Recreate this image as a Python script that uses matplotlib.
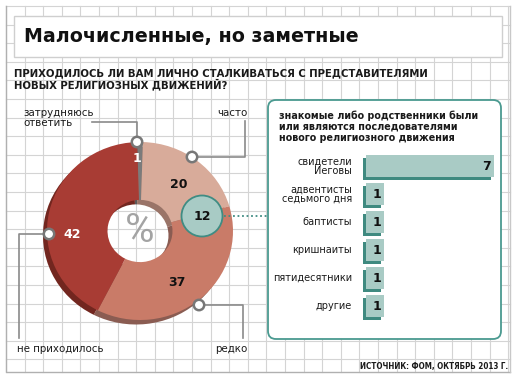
import matplotlib
matplotlib.use("Agg")
import matplotlib.pyplot as plt
from matplotlib import font_manager
from matplotlib.font_manager import FontProperties
from matplotlib.patches import Rectangle, FancyBboxPatch, Circle
import matplotlib.transforms as mtransforms

# ---------------- data ----------------
title = "Малочисленные, но заметные"
question = "ПРИХОДИЛОСЬ ЛИ ВАМ ЛИЧНО СТАЛКИВАТЬСЯ С ПРЕДСТАВИТЕЛЯМИ\nНОВЫХ РЕЛИГИОЗНЫХ ДВИЖЕНИЙ?"
pie_labels = ["затрудняюсь\nответить", "часто", "редко", "не приходилось"]
pie_values = [1, 20, 37, 42]
highlight_value = 12
panel_title = "знакомые либо родственники были\nили являются последователями\nнового религиозного движения"
bar_categories = ["свидетели\nИеговы", "адвентисты\nседьмого дня", "баптисты",
                  "кришнаиты", "пятидесятники", "другие"]
bar_values = [7, 1, 1, 1, 1, 1]
source = "ИСТОЧНИК: ФОМ, ОКТЯБРЬ 2013 Г."

# ---------------- fonts ----------------
plt.rcParams["font.family"] = ["DejaVu Sans"]


def find_narrow():
    best = None
    for f in font_manager.fontManager.ttflist:
        stretch = str(f.stretch)
        is_narrow = ("Narrow" in f.name or "Condensed" in f.name or
                     stretch in ("condensed", "semi-condensed", "extra-condensed"))
        if not is_narrow:
            continue
        w = f.weight if isinstance(f.weight, int) else (700 if "bold" in str(f.weight) else 400)
        score = abs(w - 700) + (0 if f.style == "normal" else 1000)
        if best is None or score < best[0]:
            best = (score, f.fname)
    return FontProperties(fname=best[1]) if best else FontProperties(family="DejaVu Sans", weight="bold")


narrow_fp = find_narrow()

W, H = 516, 380
fig = plt.figure(figsize=(W / 100, H / 100), dpi=100)
fig.patch.set_facecolor("white")
ax = fig.add_axes([0, 0, 1, 1])
ax.set_xlim(0, W)
ax.set_ylim(0, H)
ax.axis("off")
renderer = fig.canvas.get_renderer()


def Y(y):
    return H - y


def fit(t, target_w):
    bb = t.get_window_extent(renderer)
    t.set_fontsize(t.get_fontsize() * target_w / bb.width)


# ---------------- grid background ----------------
grid_c = "#d4d4d4"
x0, x1, y0, y1 = 6, 510, 6, 372
step = 18.6
x = x0
while x <= x1 + 0.1:
    ax.plot([x, x], [Y(y0), Y(y1)], color=grid_c, lw=0.8, zorder=0)
    x += step
y = y0
while y <= y1 + 0.1:
    ax.plot([x0, x1], [Y(y), Y(y)], color=grid_c, lw=0.8, zorder=0)
    y += step
ax.plot([x0, x0, x1], [Y(y0), Y(y1), Y(y1)], color="#b0b0b0", lw=1.0, zorder=0)
ax.plot([x1, x1], [Y(y0), Y(y1)], color="#c8c8c8", lw=1.0, zorder=0)

# title box
ax.add_patch(Rectangle((14, Y(57)), 488, 41, facecolor="white",
                       edgecolor="#cfcfcf", lw=1.0, zorder=1))
t = ax.text(24, Y(36.5), title, fontsize=14, fontweight="heavy", color="#111111",
            va="center", ha="left", zorder=2)
fit(t, 333)
qp = narrow_fp.copy()
qp.set_size(7.5)
t = ax.text(14, Y(79), question, fontproperties=qp, color="#1a1a1a",
            va="center", ha="left", linespacing=1.0, zorder=2)
fit(t, 416)

# ---------------- donut (own axes, slightly elliptical like the original) ----------------
cx, cy, RX, RY = 140, 231, 93, 89
half = 115
pax = fig.add_axes([(cx - half) / W, (H - cy - half) / H, 2 * half / W, 2 * half / H])
colors = ["#7b7b7b", "#d8ab9a", "#c97b68", "#a83c34"]
shadow = ["#5a5a5a", "#9a7468", "#8a5c52", "#72261f"]
start = 90 + pie_values[0] * 3.6 / 2
wfrac = 1 - 32.5 / 93
pax.pie(pie_values, colors=shadow, startangle=start, counterclock=False,
        center=(-4 / RX, -4.5 / RY), radius=1, frame=True,
        wedgeprops=dict(width=wfrac, linewidth=0, zorder=3))
pax.pie(pie_values, colors=colors, startangle=start, counterclock=False,
        center=(0, 0), radius=1, frame=True,
        wedgeprops=dict(width=wfrac, linewidth=0, zorder=4))
pax.set_aspect("auto")
pax.set_xlim(-half / RX, half / RX)
pax.set_ylim(-half / RY, half / RY)
pax.axis("off")

# overlay axes above the donut for labels and callouts
ov = fig.add_axes([0, 0, 1, 1])
ov.set_xlim(0, W)
ov.set_ylim(0, H)
ov.axis("off")
ov.patch.set_alpha(0)
ov.text(139.5, Y(230), "%", fontsize=29, color="#a3a3a3", ha="center", va="center",
        family=["Roboto", "DejaVu Sans"], zorder=5)

val_pos = [(137, 159), (179, 184), (177, 283), (72, 234)]
val_col = ["white", "#111111", "#111111", "white"]
for v, (px, py), c in zip(pie_values, val_pos, val_col):
    ov.text(px, Y(py), str(v), fontsize=9, fontweight="bold", color=c,
            ha="center", va="center", zorder=6)

# highlight circle
ov.add_patch(Circle((202, Y(216)), 20.5, facecolor="#a8cbc5", edgecolor="#3f8c83",
                    lw=1.3, zorder=6))
ov.text(202, Y(216), str(highlight_value), fontsize=9, fontweight="bold",
        color="#111111", ha="center", va="center", zorder=7)
ov.plot([224, 268], [Y(216), Y(216)], color="#3f8c83", lw=1.3,
        linestyle=(0, (1, 1.5)), zorder=6)

# callouts
line_c = "#8a8a8a"
callouts = [
    ((137, 142), [(137, 142), (137, 122), (92, 122)], (23, 118), "left"),
    ((192, 157), [(192, 157), (245, 157), (245, 121)], (247, 113), "right"),
    ((199, 305), [(199, 305), (243, 305), (243, 338)], (247, 349), "right"),
    ((49, 234), [(49, 234), (19, 234), (19, 338)], (17, 349), "left"),
]
for (ccx, ccy), path, (lx, ly), ha in callouts:
    xs = [p[0] for p in path]
    ys = [Y(p[1]) for p in path]
    ov.plot(xs, ys, color=line_c, lw=1.2, zorder=7, solid_joinstyle="round")
    ov.add_patch(Circle((ccx, Y(ccy)), 5.2, facecolor="white", edgecolor="#777777",
                        lw=1.8, zorder=8))
for (c, path, (lx, ly), ha), lab in zip(callouts, pie_labels):
    ov.text(lx, Y(ly), lab, fontsize=7.4, color="#1a1a1a", ha=ha, va="center",
            linespacing=0.95, zorder=8)

# ---------------- right panel ----------------
ax.add_patch(FancyBboxPatch((268, Y(339)), 233, 239,
                            boxstyle="round,pad=0,rounding_size=8",
                            facecolor="white", edgecolor="#4a9a90", lw=1.3, zorder=2))
ax.text(279, Y(126.5), panel_title, fontsize=6.9, fontweight="bold", color="#1a1a1a",
        ha="left", va="center", linespacing=1.15, zorder=3)

bx_left, bx_right = 366, 494
top_y, bot_y = 152, 320
bax = fig.add_axes([bx_left / W, (H - bot_y) / H, (bx_right - bx_left) / W,
                    (bot_y - top_y) / H])
bax.set_xlim(0, 7)
bax.set_ylim(len(bar_values) - 0.5, -0.5)
bax.axis("off")
pos = list(range(len(bar_values)))
off = mtransforms.offset_copy(bax.transData, fig=fig, x=-3.5, y=-3, units="dots")
bax.barh(pos, bar_values, height=0.78, color="#3f8a80", transform=off,
         zorder=2, clip_on=False)
bax.barh(pos, bar_values, height=0.78, color="#a9cbc5", zorder=3, clip_on=False)
for p, v in zip(pos, bar_values):
    bax.text(v - 0.18, p, str(v), fontsize=9, fontweight="bold", color="#111111",
             ha="right", va="center", zorder=4)
for p, lab in zip(pos, bar_categories):
    bax.annotate(lab, xy=(0, p), xycoords="data", xytext=(-14, 0),
                 textcoords="offset pixels", ha="right", va="center",
                 fontsize=7.0, color="#1a1a1a", linespacing=0.95,
                 annotation_clip=False)

sp = narrow_fp.copy()
sp.set_size(6.6)
t = ax.text(508, Y(367), source, fontproperties=sp, color="#1a1a1a",
            ha="right", va="center", zorder=3)
fit(t, 148)

fig.savefig("out.png", dpi=100, facecolor="white")
